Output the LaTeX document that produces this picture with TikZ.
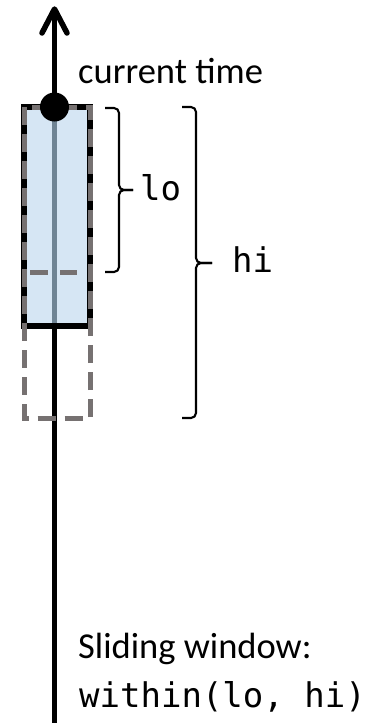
\documentclass[tikz,border=0pt]{standalone}
\usepackage{fontspec}
\setmainfont{Carlito}
\newfontfamily\monof{DejaVu Sans Mono}
\definecolor{winblue}{HTML}{D6E6F4}
\definecolor{axisgray}{HTML}{6F8494}
\definecolor{dashgray}{HTML}{767171}
\begin{document}
\begin{tikzpicture}[x=1pt,y=-1pt,
  axisline/.style={line width=5.5pt,black},
  winbox/.style={line width=6pt,black,fill=winblue},
  dashbox/.style={line width=5pt,dashgray,dash pattern=on 18pt off 9pt},
  dashseg/.style={line width=5pt,dashgray},
  bracepath/.style={line width=2.1pt,black,rounded corners=5pt},
  sanslabel/.style={inner sep=0pt,anchor=base west,font=\fontsize{36.5}{40}\selectfont},
  monolabel/.style={inner sep=0pt,anchor=base west,font=\monof\fontsize{34}{38}\selectfont}]
\useasboundingbox (0,0) rectangle (370,723);
% coordinates
\coordinate (bot) at (54.5,726);
\coordinate (tip) at (54.5,9);
\coordinate (armL) at (42,33);
\coordinate (armR) at (67,33);
\coordinate (now) at (54.5,107);
% axis
\draw[axisline] (bot) -- (tip);
% window box
\draw[winbox] (23.5,107) rectangle (90,326);
\draw[line width=5pt,axisgray] (54.5,110) -- (54.5,323);
% dashed window (hi); the lo window shares its sides and top
\draw[dashbox] (24.5,107) rectangle (90.5,418);
% bottom edge of the lo window
\draw[dashseg] (30,272) -- (48,272);
\draw[dashseg] (60,272) -- (77,272);
% arrow head
\draw[axisline,line cap=round,line join=round] (armL) -- (tip) -- (armR);
% current time dot
\fill[black] (now) circle (14.5pt);
% braces
\coordinate (loT) at (105,108);
\coordinate (loB) at (105,272);
\coordinate (loM) at (119,190);
\coordinate (loTip) at (133,190);
\draw[bracepath] (loT) -| (loM) -- (loTip);
\draw[bracepath] (loB) -| (loM) -- (loTip);
\coordinate (hiT) at (182,107);
\coordinate (hiB) at (182,418);
\coordinate (hiM) at (196,263);
\coordinate (hiTip) at (212,263);
\draw[bracepath] (hiT) -| (hiM) -- (hiTip);
\draw[bracepath] (hiB) -| (hiM) -- (hiTip);
% labels
\node[sanslabel] (ct) at (78,83) {current time};
\node[monolabel] (lo) at (140,200) {lo};
\node[monolabel] (hi) at (232,272) {hi};
\node[sanslabel] (sw) at (78,658) {Sliding window:};
\node[monolabel] (wi) at (79,707) {within(lo, hi)};
\end{tikzpicture}
\end{document}
